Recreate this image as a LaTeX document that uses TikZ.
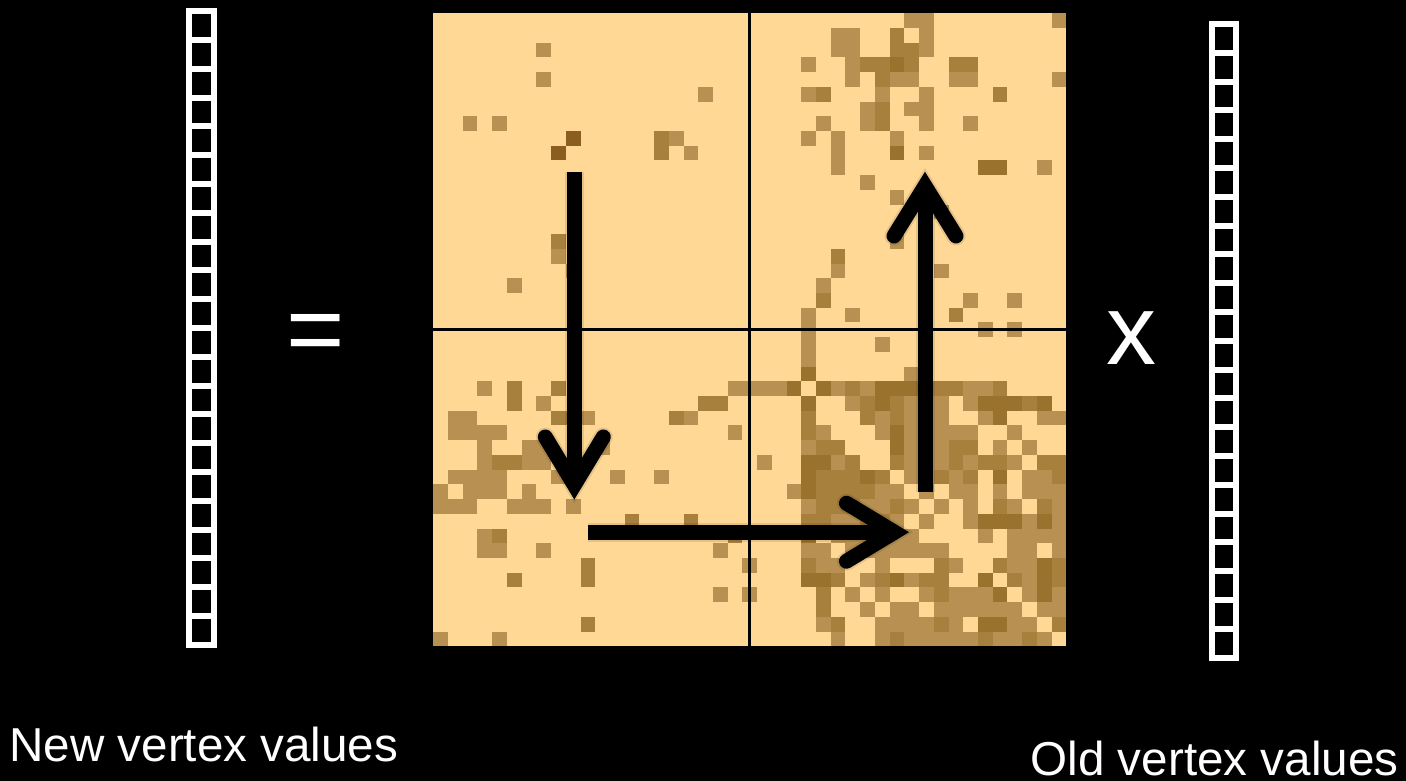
\documentclass[tikz,border=0pt]{standalone}
\usepackage{fontspec}
\setmainfont{Liberation Sans}
\definecolor{bgc}{RGB}{255,216,150}
\definecolor{tanA}{RGB}{184,145,82}
\definecolor{tanB}{RGB}{168,128,62}
\definecolor{tanC}{RGB}{154,114,46}
\definecolor{tanD}{RGB}{138,94,30}
\newcommand\mycells[2]{\foreach \j/\lst in {#2}{\foreach \i in \lst {\fill[#1] ({433.3+\i*14.72},{13.3+\j*14.72}) rectangle ++(14.72,14.72);}}}
\tikzset{
  vec/.style={draw=white, line width=6pt},
  shaft/.style={draw=black, line width=15pt},
  head/.style={draw=black, line width=15pt, line cap=round, line join=miter},
  softshaft/.style={draw=black, line width=19pt, opacity=0.10, shift={(3,4)}},
  softhead/.style={draw=black, line width=19pt, opacity=0.10, line cap=round, line join=miter, shift={(3,4)}},
  divider/.style={draw=black, line width=3pt},
  lbl/.style={text=white, inner sep=0pt, font=\fontsize{47.6}{50}\selectfont},
  sym/.style={text=white, inner sep=0pt, font=\fontsize{100}{100}\selectfont}
}
\begin{document}
\begin{tikzpicture}[x=1pt,y=-1pt]
\useasboundingbox (0,0) rectangle (1406,781);
\fill[black] (0,0) rectangle (1406,781);
% matrix background
\fill[bgc] (433.3,13.3) rectangle (1066.3,646.3);
% top-left quadrant
\mycells{tanA}{2/{7},4/{7},5/{18},7/{2,4},8/{16},9/{17},16/{8},17/{9},18/{5}}
\mycells{tanB}{8/{15},9/{15},15/{8}}
\mycells{tanD}{8/{9},9/{8}}
% top-right quadrant
\mycells{tanA}{0/{32,33,42},1/{27,28,33},2/{27,28,33},3/{25,28},4/{28,31,32,35,36,42},5/{25,30,33},6/{29,32,33},7/{26,29,33,36},8/{25,27,31},9/{27,33},10/{27,41},11/{29},12/{31},13/{34},15/{31},17/{27,34},18/{26},19/{36,39},20/{25,28},21/{25,37,39}}
\mycells{tanB}{1/{31},2/{31,32},3/{29,30,32,35,36},4/{30},5/{26,38},6/{30},7/{30},16/{27},19/{26},20/{35}}
\mycells{tanC}{3/{31},9/{31},10/{37,38}}
% bottom-left quadrant
\mycells{tanA}{25/{3,20,21},26/{7},27/{1,2,10,17},28/{1,2,3,4,20},29/{3,6,7,11},30/{3,6,7},31/{1,2,3,4,8,12,15},32/{0,2,3,4,6},33/{0,1,2,5,6,7,9},35/{3},36/{3,4,7,19},37/{21},39/{19,21},42/{0,4}}
\mycells{tanB}{25/{5,8},26/{5,18,19},27/{8,9,16},30/{4,5},34/{13,17},35/{4,20},37/{10},38/{5,10},41/{10}}
% bottom-right quadrant
\mycells{tanA}{22/{25,30},23/{25},24/{32},25/{22,23,27,29,36,37},26/{28,32,33,34,36},27/{30,32,33,34,37,41,42},28/{26,30,32,33,34,35,36,39},29/{25,32,33,34,38,40},30/{22,27,32,33,34,36,39},31/{32,33,35,40,41},32/{24,30,31,33,35,36,38,40,41,42},33/{25,29,30,32,34,36,39,42},34/{27,28,31,33,36,40,42},35/{27,28,29,30,31,32,37,39,40,41,42},36/{25,26,28,29,30,31,32,33,34,39,40,42},37/{26,27,30,35,39,40},38/{29,32,40},39/{28,30,33,35,36,37,40,42},40/{29,31,32,34,35,36,37,38,39,41,42},41/{26,30,31,32,33,35,39,40},42/{27,30,32,33,34,35,36,38,39,41}}
\mycells{tanB}{25/{28,33,34,35,38},26/{29,31,40},27/{25,29,31},28/{25},29/{26,27,35,36},30/{28,31,35,37,38,41,42},31/{26,27,28,30,34,36,42},32/{26,27,28,29},33/{26,27,28,31,38,41},34/{25,26,29,30},37/{25,34,38,42},38/{27,30,33,34,39,42},39/{26,34},40/{26},41/{27,34,42},42/{31,37,40}}
\mycells{tanC}{24/{25},25/{24,26,30,31,32},26/{25,30,37,38,39,41},27/{38},28/{31},29/{31},30/{25,26},31/{25,29,38},32/{25},34/{37,38,39,41},35/{25},37/{41},38/{25,26,31,37,41},39/{38,41},41/{37,38}}
% dividers
\draw[divider] (749.8,13.3) -- (749.8,646.3);
\draw[divider] (433.3,329.8) -- (1066.3,329.8);
% arrow coordinates
\coordinate (dS) at (574.3,172);
\coordinate (dV) at (574.3,485);
\coordinate (dA) at (545.3,437);
\coordinate (dB) at (603.3,437);
\coordinate (rS) at (588,532.2);
\coordinate (rV) at (894.5,532.2);
\coordinate (rA) at (846.5,503.2);
\coordinate (rB) at (846.5,561.2);
\coordinate (uS) at (925,492.3);
\coordinate (uV) at (925,186);
\coordinate (uA) at (894,236);
\coordinate (uB) at (956,236);
% soft shadows
\draw[softshaft] (dS) -- (dV); \draw[softhead] (dA) -- (dV) -- (dB);
\draw[softshaft] (rS) -- (rV); \draw[softhead] (rA) -- (rV) -- (rB);
\draw[softshaft] (uS) -- (uV); \draw[softhead] (uA) -- (uV) -- (uB);
% arrows
\draw[shaft] (dS) -- (dV); \draw[head] (dA) -- (dV) -- (dB);
\draw[shaft] (rS) -- (rV); \draw[head] (rA) -- (rV) -- (rB);
\draw[shaft] (uS) -- (uV); \draw[head] (uA) -- (uV) -- (uB);
% vectors
\draw[vec] (189.2,11.3) rectangle (213.7,644.7);
\foreach \k in {1,...,21} \draw[vec] (189.2,{11.3+\k*28.79}) -- (213.7,{11.3+\k*28.79});
\draw[vec] (1212.3,24) rectangle (1236.3,657.7);
\foreach \k in {1,...,21} \draw[vec] (1212.3,{24+\k*28.805}) -- (1236.3,{24+\k*28.805});
% symbols and labels
\node[sym, anchor=base] (eq) at (316,363) {=};
\node[sym, anchor=base] (times) at (1131,364) {x};
\node[lbl, anchor=base west] (newlbl) at (9.2,761.7) {New vertex values};
\node[lbl, anchor=base west] (oldlbl) at (1030.5,775.5) {Old vertex values};
\end{tikzpicture}
\end{document}
